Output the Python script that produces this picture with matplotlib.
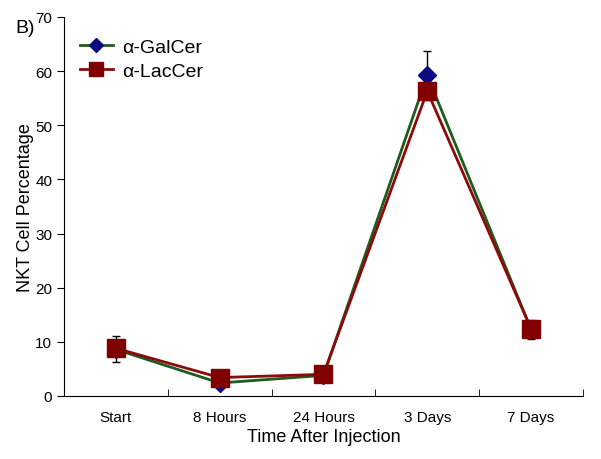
import matplotlib.pyplot as plt
import numpy as np

plt.rcParams['font.family'] = ['Liberation Sans', 'DejaVu Sans']

timepoints = ['Start', '8 Hours', '24 Hours', '3 Days', '7 Days']
galcer = [8.6, 2.4, 3.8, 59.2, 12.3]
galcer_err = [2.4, 0.5, 0.5, 4.6, 1.8]
laccer = [8.8, 3.4, 4.0, 56.3, 12.4]
laccer_err = [1.0, 0.5, 0.5, 1.5, 0.8]

fig = plt.figure(figsize=(6.01, 4.60), dpi=100)
ax = fig.add_axes([0.1065, 0.137, 0.8635, 0.824])

x = np.arange(len(timepoints))
ax.errorbar(x, galcer, yerr=galcer_err, fmt='none', ecolor='black', elinewidth=1, capsize=3, zorder=1)
ax.errorbar(x, laccer, yerr=laccer_err, fmt='none', ecolor='black', elinewidth=1, capsize=3, zorder=1)
ax.plot(x, galcer, color='#1f5a1f', lw=2, marker='D', markersize=9.5,
        markerfacecolor='#0a0a80', markeredgecolor='#0a0a80', label='\u03b1-GalCer', zorder=2)
ax.plot(x, laccer, color='#8b0a0a', lw=2, marker='s', markersize=13,
        markerfacecolor='#800000', markeredgecolor='#800000', label='\u03b1-LacCer', zorder=3)

ax.set_xlim(-0.5, 4.5)
ax.set_ylim(0, 70)
ax.set_xticks(x)
ax.set_xticklabels(timepoints, fontsize=11)
ax.set_xticks(np.arange(0.5, 5, 1), minor=True)
ax.tick_params(axis='x', which='major', length=0, pad=10)
ax.tick_params(axis='x', which='minor', direction='in', length=5)
ax.set_yticks(range(0, 71, 10))
ax.tick_params(axis='y', labelsize=11, length=5)
for s in ['top', 'right']:
    ax.spines[s].set_visible(False)

ax.set_xlabel('Time After Injection', fontsize=13, labelpad=3)
ax.set_ylabel('NKT Cell Percentage', fontsize=13, labelpad=1)

ax.legend(loc='upper left', bbox_to_anchor=(0.0, 0.985), frameon=False, fontsize=14,
          handlelength=1.7, handletextpad=0.5, borderaxespad=0.4, markerscale=0.75,
          labelspacing=0.35)
fig.text(0.025, 0.928, 'B)', fontsize=14)

fig.savefig('out.png', dpi=100)
